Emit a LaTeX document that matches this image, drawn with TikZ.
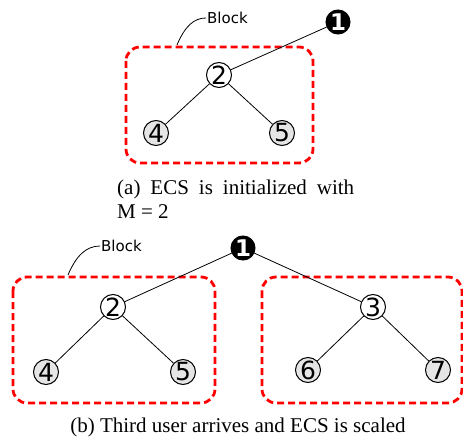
\documentclass[tikz,border=0pt]{standalone}
\usepackage{fontspec}
\setmainfont{Liberation Serif}
\newfontfamily\dejavu{DejaVu Sans}

\begin{document}
\begin{tikzpicture}[x=1pt, y=-1pt,
    vert/.style={circle, draw, line width=1pt, inner sep=0pt, minimum size=25pt,
      font=\dejavu\fontsize{25}{25}\selectfont},
    leaf/.style={vert, fill=black!10},
    root/.style={vert, fill=black, text=white, minimum size=24pt,
      font=\dejavu\bfseries\fontsize{23}{23}\selectfont},
    block/.style={draw=red, line width=2.8pt, dash pattern=on 7pt off 4pt, rounded corners=14pt},
    blocklabel/.style={font=\dejavu\fontsize{15}{15}\selectfont, inner sep=1pt, anchor=west},
    edge/.style={line width=0.8pt},
    caption/.style={font=\fontsize{21}{24}\selectfont, inner sep=0pt}]
    \useasboundingbox (0,0) rectangle (463,441);

    % Draw (a): block with nodes 2, 4, 5
    \draw[block] (126,47) rectangle (313,163);
    \node[root] (a1) at (338,22) {1};
    \node[vert] (a2) at (219,75) {2};
    \node[leaf] (a4) at (156,133) {4};
    \node[leaf] (a5) at (282,133) {5};
    \draw[edge] (a1) -- (a2);
    \draw[edge] (a2) -- (a4);
    \draw[edge] (a2) -- (a5);
    \node[blocklabel] (ablock) at (206,18) {Block};
    \coordinate (aend) at (177,45);
    \draw[edge] (aend) .. controls (185,26) and (194,18) .. (ablock.west);

    \node[caption, text width=237pt, align=justify, anchor=north west] (capa) at (117,180)
      {(a) ECS is initialized with\linebreak M = 2};

    % Draw (b): two blocks under node 1
    \draw[block] (13,277) rectangle (215,403);
    \draw[block] (262,277) rectangle (462,403);
    \node[root] (b1) at (243,248) {1};
    \node[vert] (b2) at (113,307) {2};
    \node[vert] (b3) at (373,307) {3};
    \node[leaf] (b4) at (46,372) {4};
    \node[leaf] (b5) at (183,372) {5};
    \node[leaf] (b6) at (308,370) {6};
    \node[leaf] (b7) at (438,370) {7};
    \draw[edge] (b1) -- (b2);
    \draw[edge] (b1) -- (b3);
    \draw[edge] (b2) -- (b4);
    \draw[edge] (b2) -- (b5);
    \draw[edge] (b3) -- (b6);
    \draw[edge] (b3) -- (b7);
    \node[blocklabel] (bblock) at (100,246) {Block};
    \coordinate (bend) at (68,275);
    \draw[edge] (bend) .. controls (76,256) and (86,246) .. (bblock.west);

    \node[caption] (capb) at (238,427) {(b) Third user arrives and ECS is scaled};
\end{tikzpicture}
\end{document}
